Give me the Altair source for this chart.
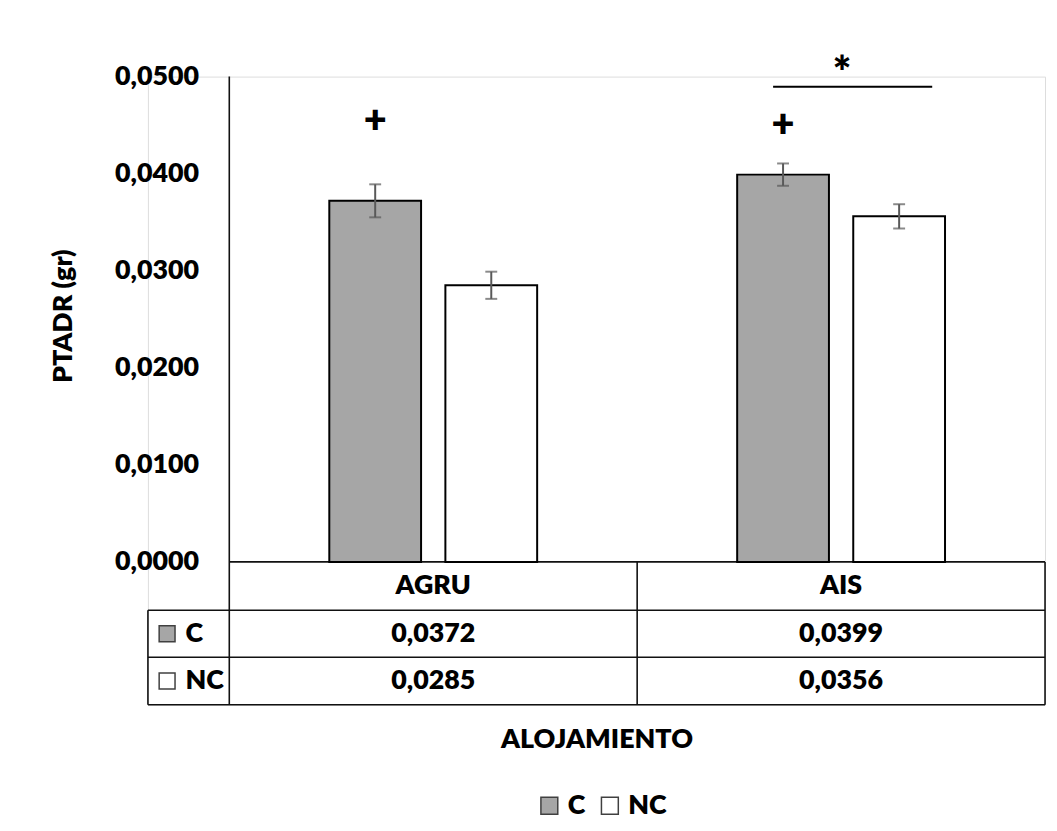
import altair as alt
import pandas as pd

# ---------------- data ----------------
categories = ["AGRU", "AIS"]
series = ["C", "NC"]
c_values = [0.0372, 0.0399]
nc_values = [0.0285, 0.0356]
c_errors = [0.0017, 0.00115]
nc_errors = [0.0014, 0.00125]
y_ticks = [0.0, 0.01, 0.02, 0.03, 0.04, 0.05]
y_title = "PTADR (gr)"
x_title = "ALOJAMIENTO"
# "+" marks above the C bars (category, height in data units)
plus_labels = ["+", "+"]
plus_categories = ["AGRU", "AIS"]
plus_heights = [0.0454, 0.0450]
# significance bracket over AIS
sig_label = "*"
sig_x_start = 1.3333
sig_x_end = 1.7234
sig_line_y = 0.04895
sig_star_x = 1.502
sig_star_y = 0.0502

# ---------------- layout (data units) ----------------
LEFT_COL = 0.1995           # width of data-table legend column
X_MIN, X_MAX = -LEFT_COL, 2.0
ROW_EDGES = [0.0, -0.00498, -0.00982, -0.01472]
Y_MIN, Y_MAX = ROW_EDGES[-1], 0.05
SERIES_OFFSET = {"C": -0.1423, "NC": 0.1423}
BAR_HALF = 0.1125
FONT = "Lato"
FS = 27
FW = 800
C_FILL, NC_FILL = "#A6A6A6", "#FFFFFF"

value_lists = {"C": c_values, "NC": nc_values}
error_lists = {"C": c_errors, "NC": nc_errors}

bar_rows = []
for i, cat in enumerate(categories):
    for s in series:
        v = value_lists[s][i]
        e = error_lists[s][i]
        xc = i + 0.5 + SERIES_OFFSET[s]
        bar_rows.append(dict(category=cat, series=s, value=v, lo=v - e, hi=v + e,
                             xc=xc, x1=xc - BAR_HALF, x2=xc + BAR_HALF, base=0.0))
bars_df = pd.DataFrame(bar_rows)

xs = alt.Scale(domain=[X_MIN, X_MAX], nice=False, zero=False)
ys = alt.Scale(domain=[Y_MIN, Y_MAX], nice=False, zero=False)

x_axis = alt.Axis(title=x_title, labels=False, ticks=False, domain=False, grid=False,
                  titleFont=FONT, titleFontSize=FS, titleFontWeight=FW,
                  titleColor="#000000", titlePadding=22)
y_axis = alt.Axis(title=y_title, values=y_ticks, grid=False, ticks=False, domain=False,
                  labelExpr="replace(format(datum.value, '.4f'), '.', ',')",
                  labelFont=FONT, labelFontSize=FS, labelFontWeight=FW, labelColor="#000000",
                  labelPadding=31, offset=-82,
                  titleFont=FONT, titleFontSize=FS, titleFontWeight=FW, titleColor="#000000",
                  titleAngle=270, titleBaseline="middle", titleX=-167, titleY=241)


def X(field):
    return alt.X(field, type="quantitative", scale=xs, axis=x_axis)


def Y(field):
    return alt.Y(field, type="quantitative", scale=ys, axis=y_axis)


# ---------------- table grid ----------------
grid_rows = [
    dict(x=0.0, x2=2.0, y=ROW_EDGES[0], y2=ROW_EDGES[0]),
    dict(x=X_MIN, x2=2.0, y=ROW_EDGES[1], y2=ROW_EDGES[1]),
    dict(x=X_MIN, x2=2.0, y=ROW_EDGES[2], y2=ROW_EDGES[2]),
    dict(x=X_MIN, x2=2.0, y=ROW_EDGES[3], y2=ROW_EDGES[3]),
    dict(x=0.0, x2=0.0, y=ROW_EDGES[3], y2=Y_MAX),
    dict(x=1.0, x2=1.0, y=ROW_EDGES[3], y2=ROW_EDGES[0]),
    dict(x=2.0, x2=2.0, y=ROW_EDGES[3], y2=ROW_EDGES[0]),
    dict(x=X_MIN, x2=X_MIN, y=ROW_EDGES[3], y2=ROW_EDGES[1]),
]
grid = alt.Chart(pd.DataFrame(grid_rows)).mark_rule(color="#111111", strokeWidth=1.6).encode(
    x=X("x"), x2="x2", y=Y("y"), y2="y2")

color_scale = alt.Scale(domain=series, range=[C_FILL, NC_FILL])
bars = alt.Chart(bars_df).mark_bar(stroke="#000000", strokeWidth=2, opacity=1).encode(
    x=X("x1"), x2="x2", y=Y("base"), y2="value",
    color=alt.Color("series:N", scale=color_scale, legend=alt.Legend(
        orient="none", legendX=391, legendY=721, direction="horizontal", title=None,
        symbolType="square", symbolSize=289, symbolStrokeColor="#404040", symbolStrokeWidth=1.5,
        symbolOpacity=1, labelFont=FONT, labelFontSize=FS, labelFontWeight=FW,
        labelColor="#000000", labelOffset=5, columnPadding=11)))

err_rules = alt.Chart(bars_df).mark_rule(color="#595959", strokeWidth=2).encode(
    x=X("xc"), y=Y("lo"), y2="hi")
err_caps_lo = alt.Chart(bars_df).mark_tick(color="#595959", thickness=2, size=12,
                                           orient="horizontal").encode(x=X("xc"), y=Y("lo"))
err_caps_hi = alt.Chart(bars_df).mark_tick(color="#595959", thickness=2, size=12,
                                           orient="horizontal").encode(x=X("xc"), y=Y("hi"))

# ---------------- annotations ----------------
plus_df = pd.DataFrame(dict(
    label=plus_labels,
    x=[categories.index(c) + 0.5 + SERIES_OFFSET["C"] for c in plus_categories],
    y=plus_heights))
plus_text = alt.Chart(plus_df).mark_text(font=FONT, fontSize=40, fontWeight=FW,
                                         color="#000000", baseline="middle").encode(
    x=X("x"), y=Y("y"), text="label")

bracket = alt.Chart(pd.DataFrame(dict(x=[sig_x_start], x2=[sig_x_end], y=[sig_line_y]))).mark_rule(
    color="#000000", strokeWidth=2).encode(x=X("x"), x2="x2", y=Y("y"))
star = alt.Chart(pd.DataFrame(dict(label=[sig_label], x=[sig_star_x], y=[sig_star_y]))).mark_text(
    font=FONT, fontSize=44, fontWeight=FW, color="#000000", baseline="middle").encode(
    x=X("x"), y=Y("y"), text="label")

# ---------------- data table text ----------------
row_mid = [(ROW_EDGES[k] + ROW_EDGES[k + 1]) / 2 for k in range(3)]
cell_rows = []
for i, cat in enumerate(categories):
    cell_rows.append(dict(label=cat, x=i + 0.5, y=row_mid[0]))
    for r, s in enumerate(series):
        cell_rows.append(dict(label=f"{value_lists[s][i]:.4f}".replace(".", ","), x=i + 0.5,
                              y=row_mid[r + 1]))
cells = alt.Chart(pd.DataFrame(cell_rows)).mark_text(
    font=FONT, fontSize=FS, fontWeight=FW, color="#000000", baseline="middle").encode(
    x=X("x"), y=Y("y"), text="label")

key_df = pd.DataFrame(dict(series=series, y=row_mid[1:], xs=[X_MIN + 0.047] * 2,
                           xt=[X_MIN + 0.092] * 2))
key_squares = alt.Chart(key_df).mark_point(shape="square", size=256, filled=True, opacity=1,
                                           stroke="#404040", strokeWidth=1.5).encode(
    x=X("xs"), y=Y("y"),
    fill=alt.Fill("series:N", scale=alt.Scale(domain=series, range=[C_FILL, NC_FILL]), legend=None))
key_text = alt.Chart(key_df).mark_text(font=FONT, fontSize=FS, fontWeight=FW, color="#000000",
                                       align="left", baseline="middle").encode(
    x=X("xt"), y=Y("y"), text="series")

chart = alt.layer(grid, bars, err_rules, err_caps_lo, err_caps_hi, plus_text, bracket, star,
                  cells, key_squares, key_text).properties(
    width=904, height=633,
    padding={"left": 141, "top": 66, "right": 4, "bottom": 114},
    autosize=alt.AutoSizeParams(type="none"),
).configure_view(stroke=None).configure(background="#FFFFFF")

chart.save("out.html", embed_options={"renderer": "svg", "actions": False})
